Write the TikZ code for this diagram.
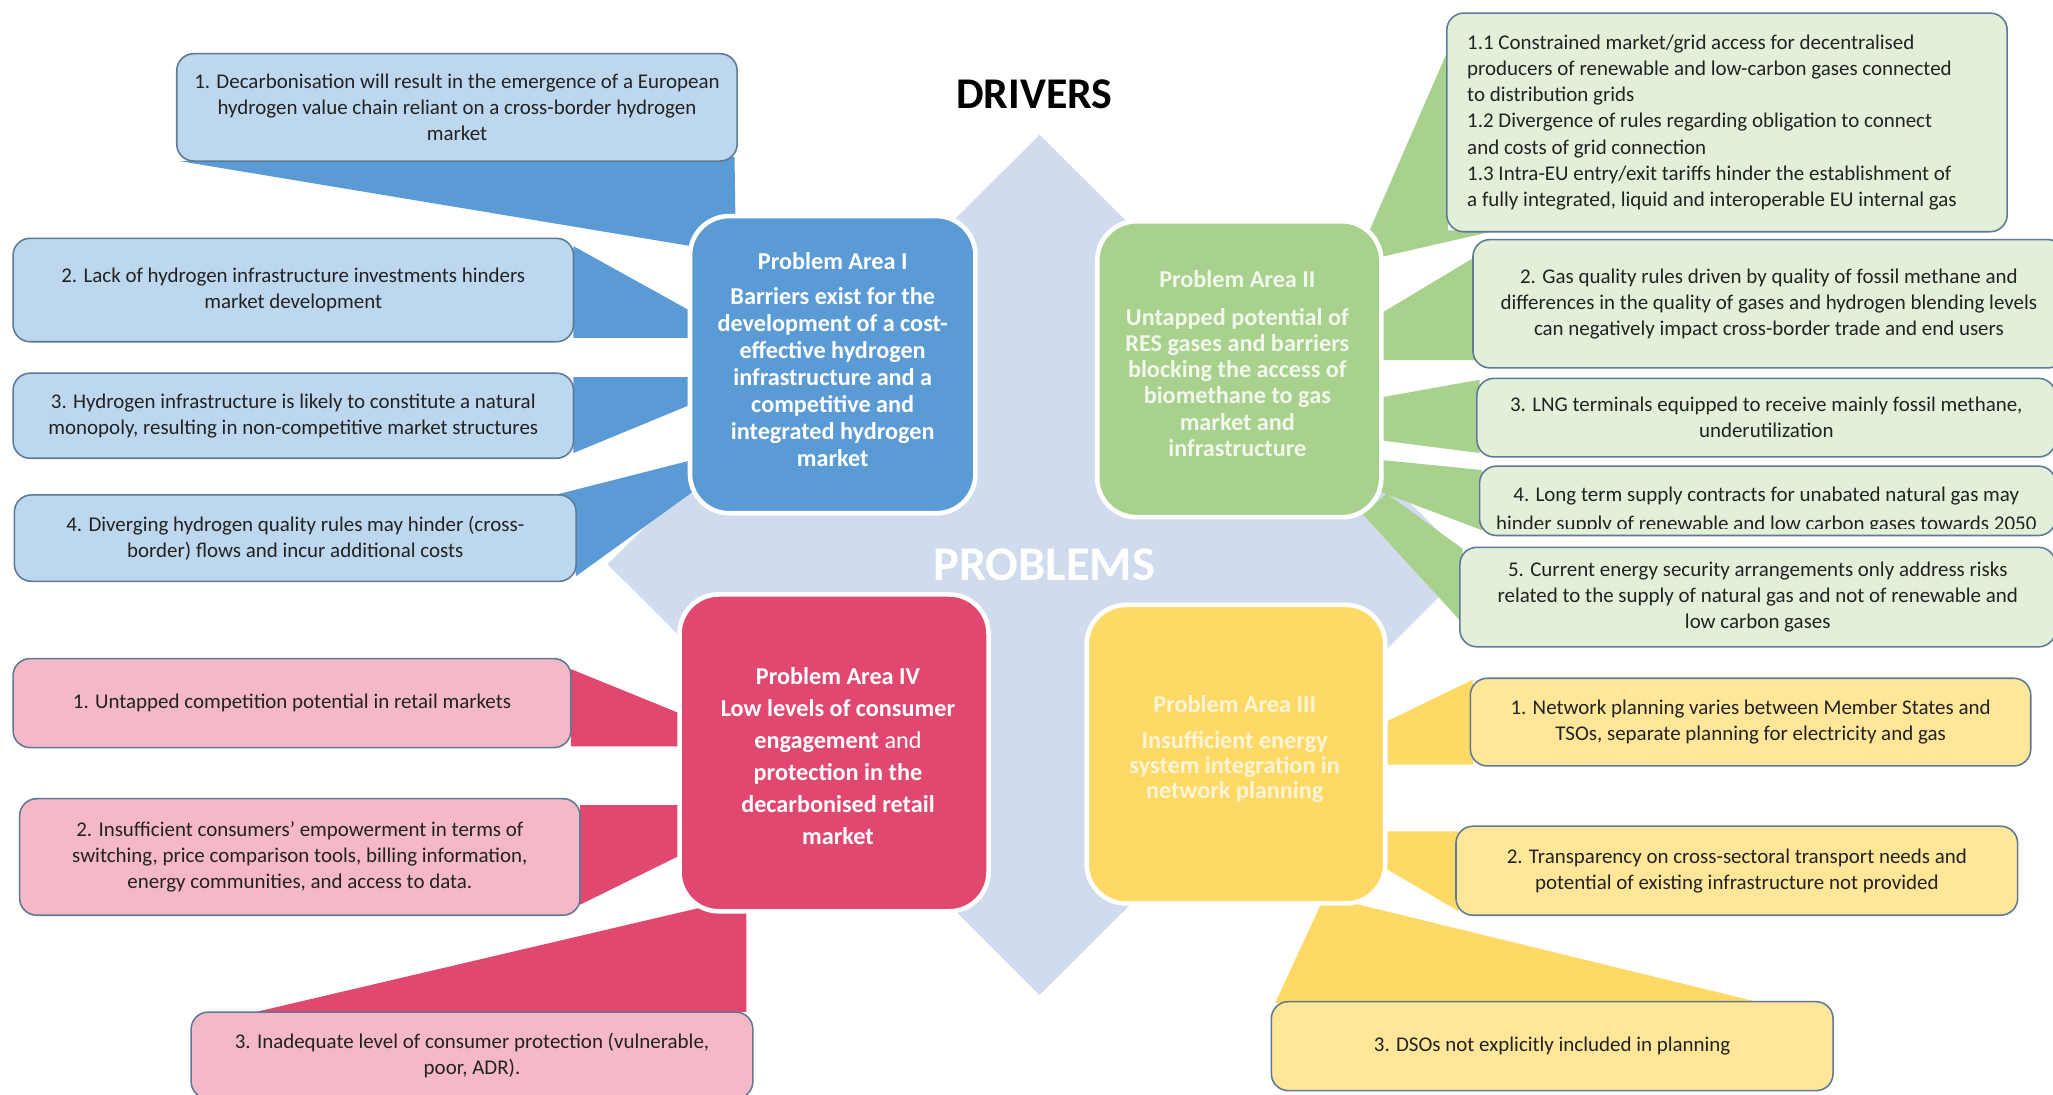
\documentclass[tikz,border=0pt]{standalone}
\usepackage{fontspec}
\setmainfont{Carlito}
\usetikzlibrary{calc}
\definecolor{bluedk}{HTML}{5B9BD5}
\definecolor{bluelt}{HTML}{BDD7EE}
\definecolor{greendk}{HTML}{A9D18E}
\definecolor{greenlt}{HTML}{E2F0D9}
\definecolor{yeldk}{HTML}{FFD966}
\definecolor{yellt}{HTML}{FFE699}
\definecolor{reddk}{HTML}{E0486F}
\definecolor{redlt}{HTML}{F4B8C6}
\definecolor{diam}{HTML}{D0DCEE}
\definecolor{sborder}{HTML}{5F7A96}
\definecolor{txt}{HTML}{222222}
\definecolor{paleyel}{HTML}{FFF5D8}
\definecolor{palegrn}{HTML}{F2F8EC}
\pgfdeclarelayer{bg}
\pgfsetlayers{bg,main}
\begin{document}
\begin{tikzpicture}[x=1pt,y=-1pt,
  sbox/.style={draw=sborder, line width=1.2pt, rounded corners=13pt, inner sep=0pt,
    align=center, font=\fontsize{16}{20}\selectfont, text=txt},
  stext/.style={inner sep=0pt, font=\fontsize{16}{20}\selectfont, text=txt},
  bigbox/.style={draw=white, line width=3.5pt, rounded corners=30pt, inner sep=0pt},
  bigtxt/.style={font=\bfseries\fontsize{18.5}{20.5}\selectfont, align=center, text=white, inner sep=0pt}
  ]
\useasboundingbox (0,0) rectangle (1568,836);

% background diamond
\coordinate (dT) at (794,103);
\coordinate (dL) at (464,431);
\coordinate (dB) at (794,760);
\coordinate (dR) at (1124,431);

% central problem areas
\node[bigbox, fill=bluedk,  minimum width=218pt, minimum height=227pt] (bI)   at (636,278.5) {};
\node[bigbox, fill=greendk, minimum width=217pt, minimum height=226pt] (gII)  at (946.5,282) {};
\node[bigbox, fill=yeldk,   minimum width=228pt, minimum height=228pt] (yIII) at (944,576) {};
\node[bigbox, fill=reddk,   minimum width=236pt, minimum height=242pt] (rIV)  at (637,575) {};

% blue drivers
\node[sbox, fill=bluelt, minimum width=428pt, minimum height=82pt] (b1) at (349,82)
 {1. Decarbonisation will result in the emergence of a European\\hydrogen value chain reliant on a cross-border hydrogen\\market};
\node[sbox, fill=bluelt, minimum width=428pt, minimum height=79pt] (b2) at (224,221.5)
 {2. Lack of hydrogen infrastructure investments hinders\\market development};
\node[sbox, fill=bluelt, minimum width=428pt, minimum height=65pt] (b3) at (224,317.5)
 {3. Hydrogen infrastructure is likely to constitute a natural\\monopoly, resulting in non-competitive market structures};
\node[sbox, fill=bluelt, minimum width=429pt, minimum height=66pt] (b4) at (225.5,411)
 {4. Diverging hydrogen quality rules may hinder (cross-\\border) flows and incur additional costs};

% green drivers
\node[sbox, fill=greenlt, minimum width=428pt, minimum height=167pt] (g1) at (1319,93.5) {};
\node[stext, align=left, anchor=west] (g1t) at ($(g1.west)+(16,0)$)
 {1.1 Constrained market/grid access for decentralised\\producers of renewable and low-carbon gases connected\\to distribution grids\\1.2 Divergence of rules regarding obligation to connect\\and costs of grid connection\\1.3 Intra-EU entry/exit tariffs hinder the establishment of\\a fully integrated, liquid and interoperable EU internal gas};
\node[sbox, fill=greenlt, minimum width=452pt, minimum height=98pt] (g2) at (1351,232)
 {2. Gas quality rules driven by quality of fossil methane and\\differences in the quality of gases and hydrogen blending levels\\can negatively impact cross-border trade and end users};
\node[sbox, fill=greenlt, minimum width=442pt, minimum height=60pt] (g3) at (1349,319)
 {3. LNG terminals equipped to receive mainly fossil methane,\\underutilization};
\node[sbox, fill=greenlt, minimum width=440pt, minimum height=53pt] (g4) at (1350,382.5) {};
\begin{scope}
\clip (g4.north west) rectangle ($(g4.south east)+(0,-6)$);
\node[stext, align=center, font=\fontsize{16}{22}\selectfont] (g4t) at ($(g4)+(-1,7.5)$)
 {4. Long term supply contracts for unabated natural gas may\\hinder supply of renewable and low carbon gases towards 2050};
\end{scope}
\node[sbox, fill=greenlt, minimum width=455pt, minimum height=76pt] (g5) at (1342.5,456)
 {5. Current energy security arrangements only address risks\\related to the supply of natural gas and not of renewable and\\low carbon gases};

% yellow drivers
\node[sbox, fill=yellt, minimum width=428pt, minimum height=67pt] (y1) at (1337,551.5)
 {1. Network planning varies between Member States and\\TSOs, separate planning for electricity and gas};
\node[sbox, fill=yellt, minimum width=429pt, minimum height=68pt] (y2) at (1326.5,665)
 {2. Transparency on cross-sectoral transport needs and\\potential of existing infrastructure not provided};
\node[sbox, fill=yellt, minimum width=429pt, minimum height=68pt] (y3) at (1185.5,799)
 {3. DSOs not explicitly included in planning};

% red drivers
\node[sbox, fill=redlt, minimum width=426pt, minimum height=68pt] (r1) at (223,537)
 {1. Untapped competition potential in retail markets};
\node[sbox, fill=redlt, minimum width=428pt, minimum height=89pt] (r2) at (229,654.5)
 {2. Insufficient consumers’ empowerment in terms of\\switching, price comparison tools, billing information,\\energy communities, and access to data.};
\node[sbox, fill=redlt, minimum width=429pt, minimum height=66pt] (r3) at (360.5,806)
 {3. Inadequate level of consumer protection (vulnerable,\\poor, ADR).};

% background layer: white page, diamond and wedges
\begin{pgfonlayer}{bg}
\fill[white] (0,0) rectangle (1568,836);
\fill[diam] (dT) -- (dL) -- (dB) -- (dR) -- cycle;
% blue wedges
\fill[bluedk] ($(b1)+(-212,41)$) -- ($(b1)+(212,38)$) -- ($(bI)+(-74,-88.5)$) -- ($(bI)+(-108,-90.5)$) -- cycle;
\fill[bluedk] ($(b2)+(214,-33.5)$) -- ($(bI)+(-106,-39.5)$) -- ($(bI)+(-106,-20.5)$) -- ($(b2)+(214,36.5)$) -- cycle;
\fill[bluedk] ($(b3)+(214,-29.5)$) -- ($(bI)+(-106,9.5)$) -- ($(bI)+(-106,29.5)$) -- ($(b3)+(214,28.5)$) -- cycle;
\fill[bluedk] ($(b4)+(198.5,-33)$) -- ($(bI)+(-106,72.5)$) -- ($(bI)+(-106,96.5)$) -- ($(b4)+(214.5,29)$) -- ($(b4)+(206.5,-21)$) -- cycle;
% green wedges
\fill[greendk] ($(gII)+(99.5,-106)$) -- ($(g1)+(-213,-55.5)$) -- ($(g1)+(-213,82.5)$) -- ($(g1)+(-176,82.5)$) -- ($(gII)+(109.5,-86)$) -- cycle;
\fill[greendk] ($(gII)+(105.5,-41)$) -- ($(g2)+(-224,-36)$) -- ($(g2)+(-224,43)$) -- ($(gII)+(105.5,-7)$) -- cycle;
\fill[greendk] ($(gII)+(105.5,22)$) -- ($(g3)+(-219,-29)$) -- ($(g3)+(-219,27)$) -- ($(gII)+(105.5,54)$) -- cycle;
\fill[greendk] ($(gII)+(105.5,69)$) -- ($(g4)+(-218,-23.5)$) -- ($(g4)+(-218,22.5)$) -- ($(gII)+(103.5,92)$) -- cycle;
\fill[greendk] ($(gII)+(112.5,95)$) -- ($(g5)+(-225.5,-37)$) -- ($(g5)+(-225.5,20)$) -- ($(gII)+(94.5,111)$) -- cycle;
% yellow wedges
\fill[yeldk] ($(yIII)+(111,-23)$) -- ($(y1)+(-212,-32.5)$) -- ($(y1)+(-212,32.5)$) -- ($(yIII)+(111,8)$) -- cycle;
\fill[yeldk] ($(yIII)+(111,59)$) -- ($(y2)+(-212.5,-30)$) -- ($(y2)+(-212.5,31)$) -- ($(yIII)+(107,83)$) -- cycle;
\fill[yeldk] ($(yIII)+(66,112)$) -- ($(y3)+(-211.5,-33)$) -- ($(y3)+(160,-33)$) -- ($(yIII)+(82,112)$) -- cycle;
% red wedges
\fill[reddk] ($(r1)+(213,-26)$) -- ($(rIV)+(-115,-29)$) -- ($(rIV)+(-115,-5)$) -- ($(r1)+(213,33)$) -- cycle;
\fill[reddk] ($(r2)+(214,-39.5)$) -- ($(rIV)+(-115,40)$) -- ($(rIV)+(-115,77)$) -- ($(r2)+(214,36.5)$) -- cycle;
\fill[reddk] ($(rIV)+(-101,118)$) -- ($(r3)+(-165.5,-33)$) -- ($(r3)+(209.5,-33)$) -- ($(rIV)+(-67,118)$) -- cycle;
\end{pgfonlayer}

% texts of the problem areas
\node[bigtxt] (tI) at (636,274.5) {Problem Area I\\[6.5pt]Barriers exist for the\\development of a cost-\\effective hydrogen\\infrastructure and a\\competitive and\\integrated hydrogen\\market};
\node[bigtxt, text=palegrn, font=\bfseries\fontsize{18.5}{20}\selectfont] (tII) at (945,277.5) {Problem Area II\\[9pt]Untapped potential of\\RES gases and barriers\\blocking the access of\\biomethane to gas\\market and\\infrastructure};
\node[bigtxt, text=paleyel, font=\bfseries\fontsize{18.5}{19}\selectfont] (tIII) at (943,572) {Problem Area III\\[9pt]Insufficient energy\\system integration in\\network planning};
\node[bigtxt, font=\bfseries\fontsize{18.5}{24.5}\selectfont] (tIV) at (640,577.5) {Problem Area IV\\Low levels of consumer\\engagement {\mdseries and}\\protection in the\\decarbonised retail\\market};

\node[font=\bfseries\fontsize{33.5}{40}\selectfont, text=black, inner sep=0pt] (drv) at (790,72) {DRIVERS};
\node[font=\bfseries\fontsize{37}{42}\selectfont, text=white, inner sep=0pt] (prob) at (797.5,431.5) {PROBLEMS};
\end{tikzpicture}
\end{document}
